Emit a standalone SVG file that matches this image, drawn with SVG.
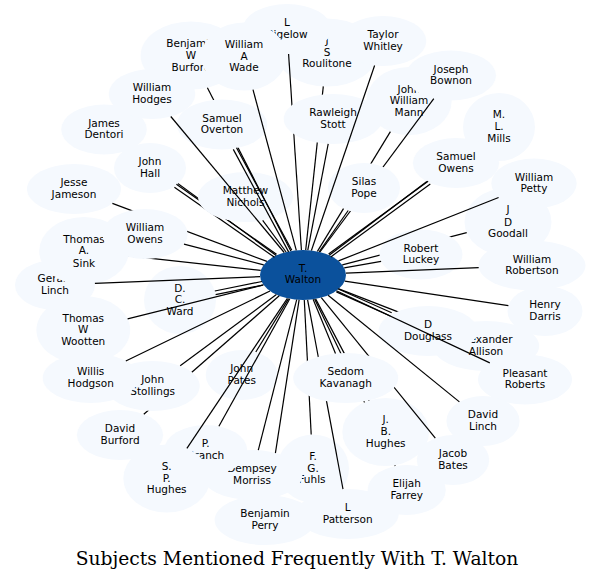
<svg xmlns="http://www.w3.org/2000/svg" width="594" height="582" viewBox="0 0 594 582">
<style>
.n ellipse{fill:#f5f9fe;stroke:none}
#walton ellipse{fill:#0b519c}
.n text{font-family:"DejaVu Sans","Liberation Sans",sans-serif;font-size:10.5px;text-anchor:middle;fill:#000}
#edges line{stroke:#000;stroke-width:1.2}
.title{font-family:"DejaVu Serif","Liberation Serif",serif;font-size:18.7px;text-anchor:middle;fill:#000}
</style>
<defs>
<mask id="m-stott" maskUnits="userSpaceOnUse" x="0" y="0" width="594" height="582"><rect width="594" height="582" fill="#fff"/><ellipse cx="333" cy="119" rx="49.3" ry="25"/></mask>
<mask id="m-overton" maskUnits="userSpaceOnUse" x="0" y="0" width="594" height="582"><rect width="594" height="582" fill="#fff"/><ellipse cx="222" cy="124.5" rx="45.3" ry="25"/></mask>
<mask id="m-hallnich" maskUnits="userSpaceOnUse" x="0" y="0" width="594" height="582"><rect width="594" height="582" fill="#fff"/><ellipse cx="150" cy="168" rx="36" ry="25"/><ellipse cx="245.5" cy="197" rx="47.5" ry="25"/></mask>
<mask id="m-nich" maskUnits="userSpaceOnUse" x="0" y="0" width="594" height="582"><rect width="594" height="582" fill="#fff"/><ellipse cx="245.5" cy="197" rx="47.5" ry="25"/></mask>
<mask id="m-wowens" maskUnits="userSpaceOnUse" x="0" y="0" width="594" height="582"><rect width="594" height="582" fill="#fff"/><ellipse cx="145" cy="234" rx="42.7" ry="25"/></mask>
<mask id="m-pope" maskUnits="userSpaceOnUse" x="0" y="0" width="594" height="582"><rect width="594" height="582" fill="#fff"/><ellipse cx="364" cy="188" rx="36" ry="25"/></mask>
<mask id="m-sowens" maskUnits="userSpaceOnUse" x="0" y="0" width="594" height="582"><rect width="594" height="582" fill="#fff"/><ellipse cx="456" cy="163" rx="43.1" ry="25"/></mask>
<mask id="m-luckey" maskUnits="userSpaceOnUse" x="0" y="0" width="594" height="582"><rect width="594" height="582" fill="#fff"/><ellipse cx="421" cy="254.5" rx="41.5" ry="25"/></mask>
<mask id="m-douglass" maskUnits="userSpaceOnUse" x="0" y="0" width="594" height="582"><rect width="594" height="582" fill="#fff"/><ellipse cx="428" cy="331" rx="49.4" ry="25"/></mask>
<mask id="m-kav" maskUnits="userSpaceOnUse" x="0" y="0" width="594" height="582"><rect width="594" height="582" fill="#fff"/><ellipse cx="345.7" cy="378" rx="52.5" ry="25"/></mask>
<mask id="m-kavjb" maskUnits="userSpaceOnUse" x="0" y="0" width="594" height="582"><rect width="594" height="582" fill="#fff"/><ellipse cx="345.7" cy="378" rx="52.5" ry="25"/><ellipse cx="385.7" cy="432" rx="43.4" ry="34"/></mask>
<mask id="m-morriss" maskUnits="userSpaceOnUse" x="0" y="0" width="594" height="582"><rect width="594" height="582" fill="#fff"/><ellipse cx="252" cy="475" rx="50.5" ry="25"/></mask>
<mask id="m-stollings" maskUnits="userSpaceOnUse" x="0" y="0" width="594" height="582"><rect width="594" height="582" fill="#fff"/><ellipse cx="152.7" cy="386" rx="47" ry="25"/></mask>
</defs>
<rect width="594" height="582" fill="#fff"/>
<g id="nodes">
<g id="walton" class="n"><ellipse cx="303" cy="275" rx="43" ry="25"/><text x="303" y="271.7">T.</text><text x="303" y="283.3">Walton</text></g>
<g id="dentori" class="n"><ellipse cx="104" cy="129.5" rx="42.8" ry="25"/><text x="104" y="126.7">James</text><text x="104" y="138.3">Dentori</text></g>
<g id="hall" class="n"><ellipse cx="150" cy="168" rx="36" ry="25"/><text x="150" y="165">John</text><text x="150" y="176.7">Hall</text></g>
<g id="nichols" class="n"><ellipse cx="245.5" cy="197" rx="47.5" ry="25"/><text x="245.5" y="194">Matthew</text><text x="245.5" y="206">Nichols</text></g>
<g id="roulitone" class="n"><ellipse cx="327" cy="52.5" rx="50.7" ry="34"/><text x="327" y="44">J</text><text x="327" y="55.7">S</text><text x="327" y="66.7">Roulitone</text></g>
<g id="bigelow" class="n"><ellipse cx="287" cy="29" rx="44.4" ry="25"/><text x="287" y="26">L</text><text x="287" y="37.7">Bigelow</text></g>
<g id="burford" class="n"><ellipse cx="191" cy="55.5" rx="50.4" ry="34"/><text x="191" y="46.7">Benjamin</text><text x="191" y="58.7">W</text><text x="191" y="70.7">Burford</text></g>
<g id="stott" class="n"><ellipse cx="333" cy="119" rx="49.3" ry="25"/><text x="333" y="116">Rawleigh</text><text x="333" y="127.7">Stott</text></g>
<g id="whitley" class="n"><ellipse cx="383" cy="41" rx="43.3" ry="25"/><text x="383" y="38">Taylor</text><text x="383" y="50">Whitley</text></g>
<g id="hodges" class="n"><ellipse cx="152" cy="94" rx="43.3" ry="25"/><text x="152" y="91">William</text><text x="152" y="102.7">Hodges</text></g>
<g id="overton" class="n"><ellipse cx="222" cy="124.5" rx="45.3" ry="25"/><text x="222" y="121.7">Samuel</text><text x="222" y="133.3">Overton</text></g>
<g id="wade" class="n"><ellipse cx="244" cy="56.5" rx="42.7" ry="34"/><text x="244" y="47.7">William</text><text x="244" y="60">A</text><text x="244" y="71.3">Wade</text></g>
<g id="jameson" class="n"><ellipse cx="74" cy="189" rx="47" ry="25"/><text x="74" y="186">Jesse</text><text x="74" y="197.7">Jameson</text></g>
<g id="mann" class="n"><ellipse cx="409" cy="101" rx="42.7" ry="34"/><text x="409" y="92.7">John</text><text x="409" y="104">William</text><text x="409" y="116">Mann</text></g>
<g id="bownon" class="n"><ellipse cx="451" cy="75.5" rx="45" ry="25"/><text x="451" y="72.7">Joseph</text><text x="451" y="84.3">Bownon</text></g>
<g id="pope" class="n"><ellipse cx="364" cy="188" rx="36" ry="25"/><text x="364" y="185">Silas</text><text x="364" y="197.3">Pope</text></g>
<g id="mills" class="n"><ellipse cx="499" cy="127" rx="36" ry="34"/><text x="499" y="118.3">M.</text><text x="499" y="130.3">L.</text><text x="499" y="142.3">Mills</text></g>
<g id="sowens" class="n"><ellipse cx="456" cy="163" rx="43.1" ry="25"/><text x="456" y="160">Samuel</text><text x="456" y="171.7">Owens</text></g>
<g id="goodall" class="n"><ellipse cx="508" cy="222" rx="43.5" ry="34"/><text x="508" y="213.3">J</text><text x="508" y="225.7">D</text><text x="508" y="237.3">Goodall</text></g>
<g id="luckey" class="n"><ellipse cx="421" cy="254.5" rx="41.5" ry="25"/><text x="421" y="251.7">Robert</text><text x="421" y="263.3">Luckey</text></g>
<g id="robertson" class="n"><ellipse cx="532" cy="265.5" rx="53.5" ry="25"/><text x="532" y="262.7">William</text><text x="532" y="274.3">Robertson</text></g>
<g id="petty" class="n"><ellipse cx="534" cy="183.5" rx="42.7" ry="25"/><text x="534" y="180.7">William</text><text x="534" y="192.3">Petty</text></g>
<g id="darris" class="n"><ellipse cx="545" cy="311" rx="37.5" ry="25"/><text x="545" y="308.3">Henry</text><text x="545" y="320">Darris</text></g>
<g id="allison" class="n"><ellipse cx="486" cy="346" rx="53.2" ry="25"/><text x="486" y="342.7">Alexander</text><text x="486" y="355">Allison</text></g>
<g id="douglass" class="n"><ellipse cx="428" cy="331" rx="49.4" ry="25"/><text x="428" y="328.3">D</text><text x="428" y="340">Douglass</text></g>
<g id="roberts" class="n"><ellipse cx="525" cy="379.5" rx="47" ry="25"/><text x="525" y="376.7">Pleasant</text><text x="525" y="388.3">Roberts</text></g>
<g id="dlinch" class="n"><ellipse cx="483" cy="421" rx="36.6" ry="25"/><text x="483" y="418.3">David</text><text x="483" y="430">Linch</text></g>
<g id="farrey" class="n"><ellipse cx="406.7" cy="490" rx="39.1" ry="25"/><text x="406.7" y="487.3">Elijah</text><text x="406.7" y="499">Farrey</text></g>
<g id="jbhughes" class="n"><ellipse cx="385.7" cy="432" rx="43.4" ry="34"/><text x="385.7" y="423.3">J.</text><text x="385.7" y="435">B.</text><text x="385.7" y="447.3">Hughes</text></g>
<g id="bates" class="n"><ellipse cx="453" cy="460" rx="36.2" ry="25"/><text x="453" y="457.3">Jacob</text><text x="453" y="469.3">Bates</text></g>
<g id="fuhls" class="n"><ellipse cx="313" cy="468.5" rx="36" ry="34"/><text x="313" y="460">F.</text><text x="313" y="471.7">G.</text><text x="312" y="483.3">Fuhls</text></g>
<g id="patterson" class="n"><ellipse cx="347.7" cy="514" rx="51" ry="25"/><text x="347.7" y="510.7">L</text><text x="347.7" y="522.7">Patterson</text></g>
<g id="kavanagh" class="n"><ellipse cx="345.7" cy="378" rx="52.5" ry="25"/><text x="345.7" y="375">Sedom</text><text x="345.7" y="387.3">Kavanagh</text></g>
<g id="perry" class="n"><ellipse cx="265" cy="520" rx="50.4" ry="25"/><text x="265" y="517.3">Benjamin</text><text x="265" y="528.7">Perry</text></g>
<g id="morriss" class="n"><ellipse cx="252" cy="475" rx="50.5" ry="25"/><text x="252" y="472.3">Dempsey</text><text x="252" y="484">Morriss</text></g>
<g id="pates" class="n"><ellipse cx="241.7" cy="375" rx="36" ry="25"/><text x="241.7" y="371.7">John</text><text x="241.7" y="384">Pates</text></g>
<g id="branch" class="n"><ellipse cx="205.7" cy="450" rx="41.5" ry="25"/><text x="205.7" y="446.7">P.</text><text x="205.7" y="459">Branch</text></g>
<g id="sphughes" class="n"><ellipse cx="166.7" cy="478.5" rx="43.4" ry="34"/><text x="166.7" y="470">S.</text><text x="166.7" y="481.7">P.</text><text x="166.7" y="493.3">Hughes</text></g>
<g id="dburford" class="n"><ellipse cx="120" cy="435" rx="43.1" ry="25"/><text x="120" y="432.3">David</text><text x="120" y="444">Burford</text></g>
<g id="stollings" class="n"><ellipse cx="152.7" cy="386" rx="47" ry="25"/><text x="152.7" y="383.3">John</text><text x="152.7" y="395">Stollings</text></g>
<g id="hodgson" class="n"><ellipse cx="90.7" cy="378" rx="48" ry="25"/><text x="90.7" y="375.3">Willis</text><text x="90.7" y="387.3">Hodgson</text></g>
<g id="ward" class="n"><ellipse cx="180" cy="300" rx="36" ry="34"/><text x="180" y="291.7">D.</text><text x="180" y="303.3">C.</text><text x="180" y="315">Ward</text></g>
<g id="wootten" class="n"><ellipse cx="83.3" cy="330" rx="46.9" ry="34"/><text x="83.3" y="321.7">Thomas</text><text x="83.3" y="333.3">W</text><text x="83.3" y="345.3">Wootten</text></g>
<g id="glinch" class="n"><ellipse cx="55" cy="285" rx="40" ry="25"/><text x="55" y="281.7">Gerald</text><text x="55" y="294">Linch</text></g>
<g id="sink" class="n"><ellipse cx="84" cy="251" rx="44.8" ry="34"/><text x="84" y="242.7">Thomas</text><text x="84" y="254.3">A.</text><text x="84" y="266.7">Sink</text></g>
<g id="wowens" class="n"><ellipse cx="145" cy="234" rx="42.7" ry="25"/><text x="145" y="231">William</text><text x="145" y="243">Owens</text></g>
</g>
<g id="edges">
<line x1="276.2" y1="255.4" x2="130.7" y2="149" mask="url(#m-hallnich)"/>
<line x1="276.5" y1="254.3" x2="176.4" y2="184.2" mask="url(#m-nich)"/>
<line x1="274.5" y1="257.3" x2="174.4" y2="187.2" mask="url(#m-nich)"/>
<line x1="286.1" y1="252" x2="262.7" y2="220.3"/>
<line x1="305.7" y1="250.1" x2="323.3" y2="86.4" mask="url(#m-stott)"/>
<line x1="301.4" y1="250" x2="288.6" y2="54" mask="url(#m-stott)"/>
<line x1="290.8" y1="251" x2="207.4" y2="87.7" mask="url(#m-overton)"/>
<line x1="307.8" y1="250.2" x2="328.2" y2="143.9"/>
<line x1="311.4" y1="250.5" x2="374.6" y2="65.5"/>
<line x1="284.2" y1="252.5" x2="170.8" y2="116.5"/>
<line x1="291.8" y1="250.3" x2="236.5" y2="147.7"/>
<line x1="288.6" y1="251.9" x2="233.3" y2="149.4"/>
<line x1="296.3" y1="250.3" x2="253" y2="89.7"/>
<line x1="266.9" y1="261.4" x2="112.4" y2="203.4" mask="url(#m-wowens)"/>
<line x1="317.4" y1="251.4" x2="390.4" y2="131.6" mask="url(#m-pope)"/>
<line x1="320" y1="252" x2="433.8" y2="98.6" mask="url(#m-pope)"/>
<line x1="319.2" y1="251.8" x2="348.2" y2="210.5"/>
<line x1="329.2" y1="255.2" x2="470.9" y2="148.2" mask="url(#m-sowens)"/>
<line x1="330.8" y1="256.9" x2="430.3" y2="184.1"/>
<line x1="328.6" y1="254" x2="428.1" y2="181.2"/>
<line x1="342.3" y1="264.8" x2="466.7" y2="232.7" mask="url(#m-luckey)"/>
<line x1="344.2" y1="267.8" x2="381.1" y2="261.4"/>
<line x1="345.9" y1="273.2" x2="478.7" y2="267.7"/>
<line x1="338.5" y1="260.9" x2="498.6" y2="197.5"/>
<line x1="344.7" y1="281.2" x2="508.4" y2="305.6"/>
<line x1="338.8" y1="288.9" x2="445" y2="330.1" mask="url(#m-douglass)"/>
<line x1="336.4" y1="291.9" x2="390.3" y2="316"/>
<line x1="337.8" y1="288.7" x2="391.7" y2="312.8"/>
<line x1="336.4" y1="290.7" x2="489.8" y2="362.9"/>
<line x1="328.1" y1="295.3" x2="459.4" y2="401.9"/>
<line x1="314.6" y1="299.1" x2="395.2" y2="466.1" mask="url(#m-kavjb)"/>
<line x1="315.6" y1="298.9" x2="369.1" y2="400.6" mask="url(#m-kav)"/>
<line x1="321.3" y1="297.6" x2="435.3" y2="438.2" mask="url(#m-kav)"/>
<line x1="304.3" y1="300" x2="311.2" y2="434.5" mask="url(#m-kav)"/>
<line x1="307.6" y1="299.9" x2="343" y2="489.1" mask="url(#m-kav)"/>
<line x1="313.1" y1="299.3" x2="335.5" y2="353.5"/>
<line x1="299.1" y1="299.9" x2="268.9" y2="495.1" mask="url(#m-morriss)"/>
<line x1="296.7" y1="299.7" x2="258.3" y2="450.2"/>
<line x1="288.6" y1="298.6" x2="255.8" y2="352"/>
<line x1="289.8" y1="298.8" x2="218.9" y2="426.3"/>
<line x1="287.4" y1="298.3" x2="186.9" y2="448.4"/>
<line x1="279.2" y1="295.8" x2="143.8" y2="414.2" mask="url(#m-stollings)"/>
<line x1="276.4" y1="294.6" x2="180.2" y2="365.7"/>
<line x1="270" y1="291" x2="125.8" y2="361"/>
<line x1="262" y1="281.5" x2="214.8" y2="291"/>
<line x1="262.8" y1="285.1" x2="215.6" y2="294.6"/>
<line x1="263.5" y1="284.9" x2="127.6" y2="318.9"/>
<line x1="260.1" y1="276.7" x2="94.9" y2="283.4"/>
<line x1="260.7" y1="270.4" x2="128.3" y2="255.9" mask="url(#m-wowens)"/>
<line x1="263.7" y1="264.8" x2="184" y2="244.1"/>
</g>
<text class="title" x="297" y="565">Subjects Mentioned Frequently With T. Walton</text>
</svg>
